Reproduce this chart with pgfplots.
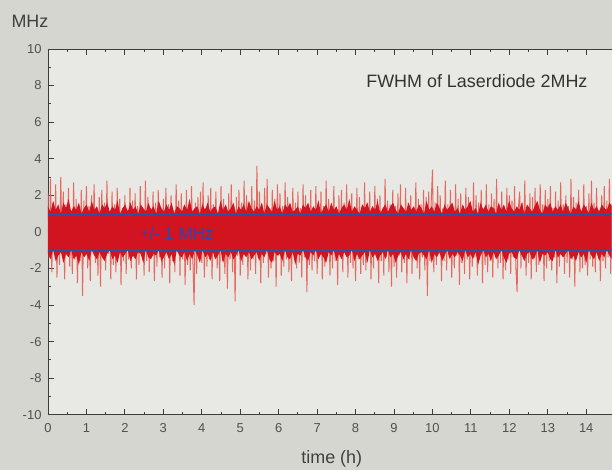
\documentclass[border=0pt]{standalone}
\usepackage{fontspec}
\setmainfont{Liberation Sans}
\usepackage{pgfplots}
\pgfplotsset{compat=1.18}
\definecolor{bgout}{RGB}{214,214,209}
\definecolor{bgin}{RGB}{232,232,229}
\definecolor{redlight}{RGB}{230,105,95}
\definecolor{redcore}{RGB}{210,20,32}
\definecolor{lineblue}{RGB}{40,82,165}
\definecolor{textblue}{RGB}{44,72,178}
\definecolor{axisgray}{RGB}{60,60,60}
\definecolor{labelgray}{RGB}{80,80,80}
\begin{document}
\begin{tikzpicture}
\fill[bgout] (0,0) rectangle (612bp,470bp);
\begin{axis}[
  at={(48bp,55bp)}, anchor=south west,
  scale only axis, width=564bp, height=366bp,
  xmin=0, xmax=14.66, ymin=-10, ymax=10,
  axis x line=box, axis y line=left,
  axis line style={-, draw=axisgray, line width=0.8pt},
  y axis line style={-},
  xtick={0,...,14}, minor x tick num=1,
  ytick={-10,-8,...,10}, minor y tick num=1,
  tick align=inside,
  major tick length=6bp, minor tick length=3bp,
  tick style={axisgray, line width=0.8pt},
  ticklabel style={font=\fontsize{13}{13}\selectfont, text=labelgray},
  xticklabel style={yshift=-5bp},
  yticklabel style={xshift=-3bp},
  /pgf/number format/assume math mode=true,
  axis background/.style={fill=bgin},
]
\addplot[draw=redlight, line width=1.0pt] table[row sep=\\, header=false, x expr=\coordindex*0.03334, y index=0] {
2.1\\-1.4\\2.9\\-2.2\\1.6\\-1.1\\2.6\\-2.5\\1.3\\-1.8\\3.0\\-1.2\\2.2\\-2.6\\1.5\\-0.9\\2.4\\-1.9\\1.1\\-2.3\\2.7\\-1.5\\1.8\\-2.8\\1.2\\-1.6\\2.3\\-3.5\\1.7\\-1.3\\
2.5\\-2.0\\1.4\\-2.7\\2.0\\-1.1\\2.6\\-1.7\\1.2\\-2.4\\1.9\\-3.0\\2.3\\-1.4\\1.6\\-2.1\\2.8\\-1.2\\1.0\\-2.6\\2.2\\-1.8\\1.5\\-2.2\\2.4\\-1.0\\1.8\\-2.9\\1.3\\-1.6\\
2.0\\-2.3\\1.2\\-1.5\\2.4\\-2.0\\1.7\\-1.2\\2.1\\-2.6\\1.4\\-1.8\\2.5\\-1.3\\1.1\\-2.4\\2.8\\-1.6\\1.9\\-2.2\\1.3\\-1.0\\2.2\\-2.7\\1.6\\-1.9\\2.3\\-1.4\\1.0\\-2.5\\
1.8\\-2.0\\2.4\\-1.3\\1.5\\-2.8\\2.0\\-1.6\\1.2\\-2.2\\2.6\\-1.1\\1.7\\-2.4\\2.1\\-1.5\\1.4\\-2.9\\2.3\\-1.8\\1.0\\-2.1\\2.5\\-1.4\\-4.0\\1.6\\-2.3\\1.9\\-1.2\\2.2\\
-1.7\\2.7\\-2.5\\1.3\\-1.9\\2.0\\-1.2\\2.4\\-2.6\\1.5\\-1.4\\2.2\\-2.0\\1.1\\-2.7\\2.5\\-1.6\\1.8\\-2.3\\1.2\\-3.1\\2.1\\-1.5\\2.6\\-2.2\\1.4\\-3.8\\1.9\\-1.3\\2.3\\
-2.4\\1.6\\-1.8\\2.8\\-1.1\\2.0\\-2.6\\1.3\\-2.1\\2.5\\-1.5\\1.7\\-2.3\\3.6\\-1.4\\2.2\\-2.8\\1.5\\-1.7\\2.4\\-1.2\\2.9\\-2.5\\1.2\\-2.0\\2.3\\-1.6\\1.8\\-3.0\\2.6\\
-1.3\\2.1\\-2.4\\1.4\\-1.9\\2.7\\-1.5\\1.9\\-2.2\\1.1\\-2.7\\2.4\\-1.2\\1.6\\-2.0\\2.2\\-1.7\\1.3\\-2.5\\2.6\\-1.4\\2.0\\-3.3\\1.5\\-1.8\\2.3\\-2.1\\1.2\\-1.6\\2.5\\
-2.3\\1.7\\-1.1\\2.2\\-2.6\\1.4\\-1.9\\2.8\\-1.3\\1.8\\-2.4\\1.1\\-2.0\\2.5\\-1.6\\1.3\\-2.9\\2.0\\-1.4\\2.3\\-2.2\\1.6\\-1.2\\2.6\\-2.5\\1.5\\-1.7\\2.1\\-2.0\\1.2\\
-2.7\\2.4\\-1.5\\1.9\\-2.3\\1.3\\-1.8\\2.7\\-2.1\\1.6\\-1.2\\2.2\\-2.6\\1.4\\-2.0\\2.5\\-1.3\\1.8\\-2.8\\2.0\\-1.6\\1.1\\-2.4\\2.9\\-1.4\\1.7\\-2.2\\1.5\\-3.0\\2.3\\
-1.9\\1.4\\-2.5\\2.1\\-1.3\\2.6\\-2.2\\1.2\\-1.7\\2.4\\-2.8\\1.6\\-1.5\\2.0\\-2.3\\1.3\\-1.1\\2.7\\-2.0\\1.8\\-2.6\\1.5\\-1.4\\2.3\\-2.1\\1.9\\-3.5\\2.2\\-1.6\\1.7\\
3.4\\-2.2\\1.6\\-1.8\\2.5\\-1.2\\2.0\\-2.7\\1.3\\-1.6\\2.8\\-2.1\\1.5\\-1.4\\2.3\\-2.5\\1.1\\-2.0\\2.6\\-1.3\\1.8\\-2.9\\2.1\\-1.7\\1.4\\-2.3\\2.4\\-1.5\\1.9\\-2.6\\
1.2\\-1.9\\2.7\\-1.4\\2.0\\-2.4\\1.6\\-1.1\\2.3\\-2.8\\1.3\\-1.8\\2.6\\-2.2\\1.5\\-1.6\\2.1\\-2.5\\1.8\\-1.3\\2.9\\-2.0\\1.4\\-1.7\\2.2\\-2.6\\1.1\\-2.1\\2.4\\-1.5\\
2.0\\-2.3\\1.7\\-1.4\\2.5\\-1.9\\-3.3\\1.3\\2.2\\-2.0\\1.6\\-1.2\\2.8\\-2.4\\1.4\\-1.7\\2.1\\-2.6\\1.9\\-1.5\\2.4\\-2.2\\1.2\\-1.8\\2.6\\-1.3\\1.5\\-2.7\\2.3\\-2.0\\
1.8\\-1.6\\2.5\\-2.1\\1.3\\-1.4\\2.2\\-2.8\\1.7\\-1.9\\2.7\\-1.2\\1.5\\-2.3\\2.0\\-1.7\\1.4\\-2.5\\2.9\\-1.5\\1.9\\-3.0\\1.6\\-1.3\\2.3\\-2.2\\1.1\\-2.0\\2.6\\-1.8\\
1.4\\-2.4\\2.1\\-1.5\\2.8\\-1.9\\1.6\\-2.2\\2.4\\-1.3\\1.2\\-2.7\\2.0\\-1.6\\2.5\\-2.0\\1.7\\-1.4\\2.9\\-2.3\\1.5\\
};
\addplot[fill=redcore, draw=none] table[row sep=\\, header=false, x expr=\coordindex*0.06699, y index=0] {
1.4\\1.1\\1.7\\1.2\\1.5\\1.0\\1.6\\1.3\\1.8\\1.1\\1.4\\1.2\\1.6\\1.0\\1.3\\1.5\\1.1\\1.7\\1.2\\1.4\\
1.0\\1.5\\1.3\\1.6\\1.1\\1.4\\1.2\\1.7\\1.0\\1.3\\1.5\\1.1\\1.6\\1.2\\1.4\\1.0\\1.5\\1.3\\1.1\\1.6\\
1.2\\1.4\\1.0\\1.7\\1.3\\1.1\\1.5\\1.2\\1.6\\1.0\\1.4\\1.3\\1.1\\1.5\\1.2\\1.8\\1.1\\1.3\\1.4\\1.0\\
1.5\\1.2\\1.6\\1.1\\1.3\\1.4\\1.0\\1.7\\1.2\\1.5\\1.1\\1.3\\1.6\\1.0\\1.4\\1.2\\1.5\\1.1\\1.7\\1.3\\
1.1\\1.4\\1.2\\1.6\\1.0\\1.5\\1.3\\1.1\\1.7\\1.2\\1.4\\1.0\\1.5\\1.3\\1.6\\1.1\\1.2\\1.4\\1.0\\1.5\\
1.3\\1.6\\1.1\\1.4\\1.2\\1.7\\1.0\\1.3\\1.5\\1.1\\1.6\\1.2\\1.4\\1.0\\1.3\\1.5\\1.2\\1.8\\1.1\\1.4\\
1.2\\1.0\\1.5\\1.3\\1.6\\1.1\\1.4\\1.2\\1.7\\1.0\\1.3\\1.5\\1.1\\1.4\\1.6\\1.2\\1.0\\1.5\\1.3\\1.1\\
1.6\\1.2\\1.4\\1.1\\1.5\\1.3\\1.0\\1.7\\1.2\\1.4\\1.1\\1.6\\1.3\\1.0\\1.5\\1.2\\1.4\\1.6\\1.1\\1.3\\
1.0\\1.5\\1.2\\1.4\\1.7\\1.1\\1.3\\1.0\\1.6\\1.2\\1.5\\1.1\\1.4\\1.3\\1.0\\1.6\\1.2\\1.5\\1.1\\1.7\\
1.3\\1.1\\1.4\\1.2\\1.6\\1.0\\1.5\\1.3\\1.1\\1.4\\1.7\\1.2\\1.0\\1.5\\1.3\\1.6\\1.1\\1.4\\1.2\\1.5\\
1.1\\1.6\\1.3\\1.0\\1.4\\1.2\\1.7\\1.1\\1.5\\1.3\\1.0\\1.6\\1.2\\1.4\\1.1\\1.5\\1.3\\1.2\\1.6\\1.4\\
} \closedcycle;
\addplot[fill=redcore, draw=none] table[row sep=\\, header=false, x expr=\coordindex*0.06699, y index=0] {
-1.2\\-1.5\\-1.0\\-1.6\\-1.3\\-1.1\\-1.7\\-1.2\\-1.4\\-1.0\\-1.5\\-1.3\\-1.8\\-1.1\\-1.4\\-1.2\\-1.6\\-1.0\\-1.3\\-1.5\\
-1.1\\-1.4\\-1.6\\-1.2\\-1.0\\-1.5\\-1.3\\-1.7\\-1.1\\-1.4\\-1.2\\-1.0\\-1.6\\-1.3\\-1.5\\-1.1\\-1.2\\-1.7\\-1.0\\-1.4\\
-1.5\\-1.2\\-1.3\\-1.0\\-1.6\\-1.4\\-1.1\\-1.5\\-1.2\\-1.8\\-1.0\\-1.3\\-1.4\\-1.1\\-1.6\\-1.2\\-1.5\\-1.0\\-1.3\\-1.7\\
-1.0\\-1.4\\-1.2\\-1.6\\-1.1\\-1.5\\-1.3\\-1.0\\-1.7\\-1.2\\-1.4\\-1.1\\-1.5\\-1.3\\-1.0\\-1.6\\-1.2\\-1.4\\-1.1\\-1.5\\
-1.3\\-1.1\\-1.6\\-1.2\\-1.4\\-1.0\\-1.5\\-1.7\\-1.1\\-1.3\\-1.2\\-1.6\\-1.0\\-1.4\\-1.5\\-1.1\\-1.8\\-1.2\\-1.3\\-1.0\\
-1.4\\-1.6\\-1.1\\-1.3\\-1.0\\-1.5\\-1.2\\-1.4\\-1.7\\-1.1\\-1.3\\-1.0\\-1.6\\-1.2\\-1.5\\-1.1\\-1.4\\-1.3\\-1.0\\-1.6\\
-1.2\\-1.5\\-1.3\\-1.1\\-1.7\\-1.0\\-1.4\\-1.2\\-1.6\\-1.3\\-1.1\\-1.5\\-1.0\\-1.4\\-1.2\\-1.7\\-1.3\\-1.1\\-1.5\\-1.2\\
-1.5\\-1.0\\-1.4\\-1.6\\-1.2\\-1.1\\-1.3\\-1.5\\-1.0\\-1.7\\-1.2\\-1.4\\-1.1\\-1.6\\-1.3\\-1.0\\-1.5\\-1.2\\-1.4\\-1.1\\
-1.3\\-1.6\\-1.0\\-1.4\\-1.2\\-1.5\\-1.1\\-1.8\\-1.3\\-1.0\\-1.4\\-1.2\\-1.6\\-1.1\\-1.5\\-1.3\\-1.0\\-1.4\\-1.7\\-1.2\\
-1.1\\-1.4\\-1.5\\-1.0\\-1.3\\-1.6\\-1.2\\-1.1\\-1.5\\-1.4\\-1.0\\-1.7\\-1.2\\-1.3\\-1.1\\-1.5\\-1.6\\-1.0\\-1.4\\-1.2\\
-1.4\\-1.2\\-1.0\\-1.5\\-1.3\\-1.6\\-1.1\\-1.4\\-1.2\\-1.7\\-1.0\\-1.3\\-1.5\\-1.1\\-1.6\\-1.2\\-1.4\\-1.0\\-1.3\\-1.5\\
} \closedcycle;
\addplot[draw=lineblue, line width=2bp] coordinates {(0,1) (14.66,1)};
\addplot[draw=lineblue, line width=2bp] coordinates {(0,-1) (14.66,-1)};
\node[anchor=base west, text=textblue, font=\fontsize{17}{17}\selectfont] at (axis cs:2.29,-0.44) {+/- 1 MHz};
\node[anchor=base west, text=black!80, font=\fontsize{18}{18}\selectfont] at (axis cs:8.19,7.87) {FWHM of Laserdiode 2MHz};
\end{axis}
\node[font=\fontsize{18}{18}\selectfont, text=black!75] at (30bp,449bp) {MHz};
\node[font=\fontsize{18}{18}\selectfont, text=black!75] at (332bp,11bp) {time (h)};
\end{tikzpicture}
\end{document}
